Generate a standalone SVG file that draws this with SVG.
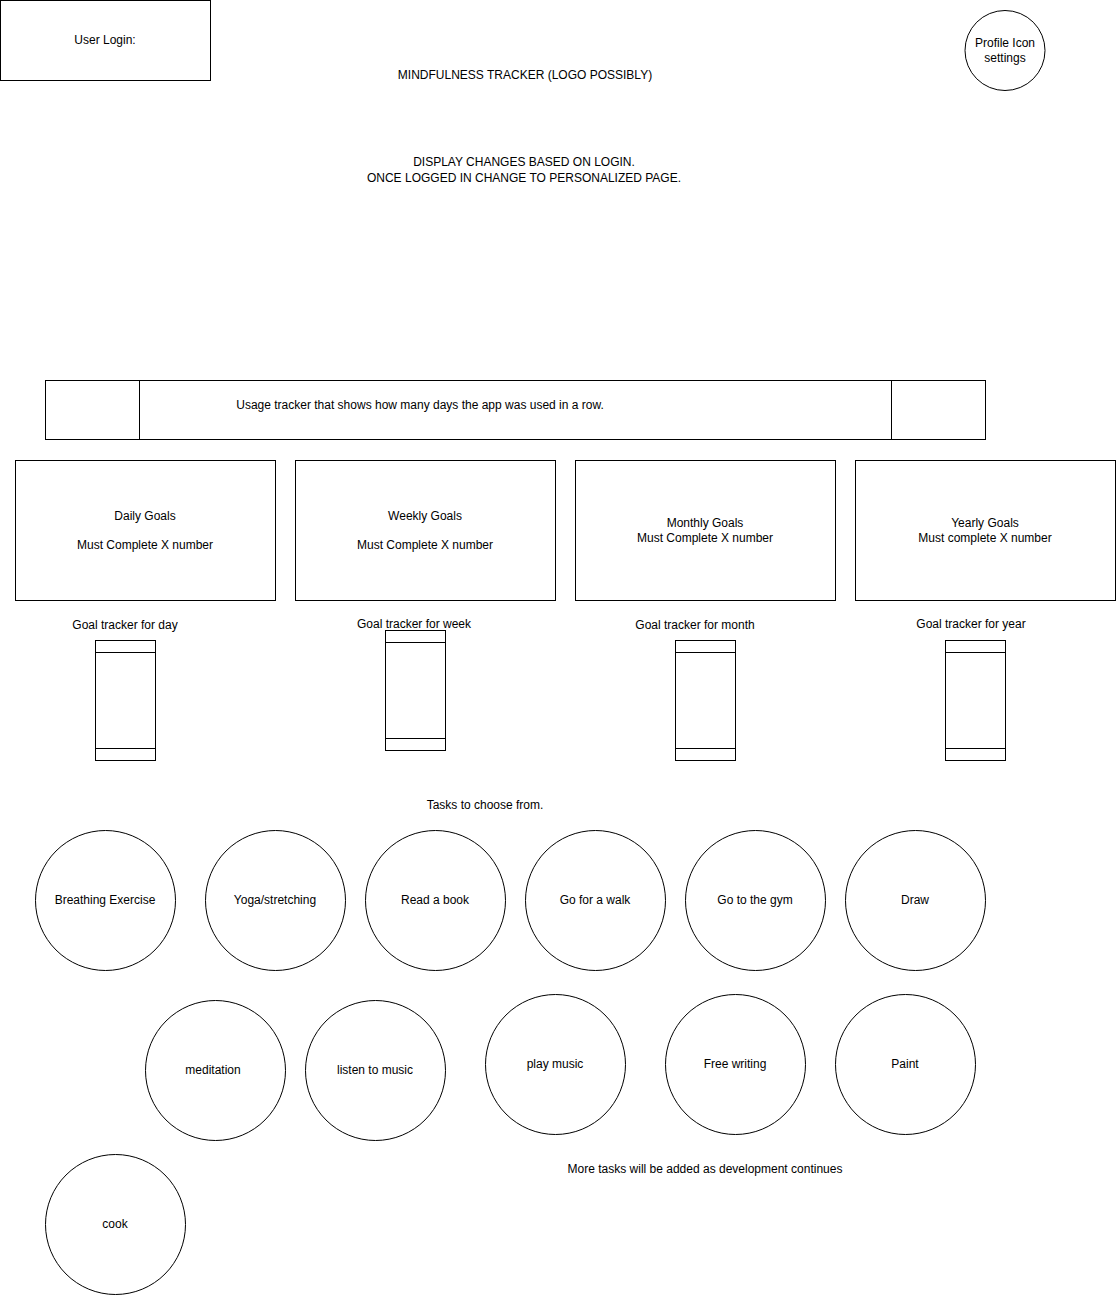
<svg xmlns="http://www.w3.org/2000/svg" width="1116" height="1295" viewBox="0 0 1116 1295">
<style>
.s{fill:#fff;stroke:#000;stroke-width:1}
.l{fill:none;stroke:#000;stroke-width:1}
text{font-family:"Liberation Sans",Arial,sans-serif;font-size:12px;fill:#000;text-anchor:middle}
</style>
<rect width="1116" height="1295" fill="#fff"/>
<g id="login"><rect class="s" x="0.5" y="0.5" width="210" height="80"/><text x="105" y="44">User Login:</text></g>
<g id="title"><text x="525" y="79">MINDFULNESS TRACKER (LOGO POSSIBLY)</text></g>
<g id="profile"><circle class="s" cx="1005" cy="50.5" r="40"/><text x="1005" y="47">Profile Icon</text><text x="1005" y="62">settings</text></g>
<g id="display"><text x="524" y="166">DISPLAY CHANGES BASED ON LOGIN.</text><text x="524" y="182">ONCE LOGGED IN CHANGE TO PERSONALIZED PAGE.</text></g>
<g id="usage"><rect class="s" x="45.5" y="380.5" width="940" height="59"/><line class="l" x1="139.5" y1="380.5" x2="139.5" y2="439.5"/><line class="l" x1="891.5" y1="380.5" x2="891.5" y2="439.5"/><text x="420" y="409">Usage tracker that shows how many days the app was used in a row.</text></g>
<g id="daily"><rect class="s" x="15.5" y="460.5" width="260" height="140"/><text x="145" y="520">Daily Goals</text><text x="145" y="549">Must Complete X number</text></g>
<g id="weekly"><rect class="s" x="295.5" y="460.5" width="260" height="140"/><text x="425" y="520">Weekly Goals</text><text x="425" y="549">Must Complete X number</text></g>
<g id="monthly"><rect class="s" x="575.5" y="460.5" width="260" height="140"/><text x="705" y="527">Monthly Goals</text><text x="705" y="542">Must Complete X number</text></g>
<g id="yearly"><rect class="s" x="855.5" y="460.5" width="260" height="140"/><text x="985" y="527">Yearly Goals</text><text x="985" y="542">Must complete X number</text></g>
<g id="tracker-day"><text x="125" y="629">Goal tracker for day</text><rect class="s" x="95.5" y="640.5" width="60" height="120"/><line class="l" x1="95.5" y1="652.5" x2="155.5" y2="652.5"/><line class="l" x1="95.5" y1="748.5" x2="155.5" y2="748.5"/></g>
<g id="tracker-week"><text x="414" y="628">Goal tracker for week</text><rect class="s" x="385.5" y="630.5" width="60" height="120"/><line class="l" x1="385.5" y1="642.5" x2="445.5" y2="642.5"/><line class="l" x1="385.5" y1="738.5" x2="445.5" y2="738.5"/></g>
<g id="tracker-month"><text x="695" y="629">Goal tracker for month</text><rect class="s" x="675.5" y="640.5" width="60" height="120"/><line class="l" x1="675.5" y1="652.5" x2="735.5" y2="652.5"/><line class="l" x1="675.5" y1="748.5" x2="735.5" y2="748.5"/></g>
<g id="tracker-year"><text x="971" y="628">Goal tracker for year</text><rect class="s" x="945.5" y="640.5" width="60" height="120"/><line class="l" x1="945.5" y1="652.5" x2="1005.5" y2="652.5"/><line class="l" x1="945.5" y1="748.5" x2="1005.5" y2="748.5"/></g>
<g id="tasks-label"><text x="485" y="809">Tasks to choose from.</text></g>
<g id="t1"><circle class="s" cx="105.5" cy="900.5" r="70"/><text x="105" y="904">Breathing Exercise</text></g>
<g id="t2"><circle class="s" cx="275.5" cy="900.5" r="70"/><text x="275" y="904">Yoga/stretching</text></g>
<g id="t3"><circle class="s" cx="435.5" cy="900.5" r="70"/><text x="435" y="904">Read a book</text></g>
<g id="t4"><circle class="s" cx="595.5" cy="900.5" r="70"/><text x="595" y="904">Go for a walk</text></g>
<g id="t5"><circle class="s" cx="755.5" cy="900.5" r="70"/><text x="755" y="904">Go to the gym</text></g>
<g id="t6"><circle class="s" cx="915.5" cy="900.5" r="70"/><text x="915" y="904">Draw</text></g>
<g id="t7"><circle class="s" cx="215.5" cy="1070.5" r="70"/><text x="213" y="1074">meditation</text></g>
<g id="t8"><circle class="s" cx="375.5" cy="1070.5" r="70"/><text x="375" y="1074">listen to music</text></g>
<g id="t9"><circle class="s" cx="555.5" cy="1064.5" r="70"/><text x="555" y="1068">play music</text></g>
<g id="t10"><circle class="s" cx="735.5" cy="1064.5" r="70"/><text x="735" y="1068">Free writing</text></g>
<g id="t11"><circle class="s" cx="905.5" cy="1064.5" r="70"/><text x="905" y="1068">Paint</text></g>
<g id="t12"><circle class="s" cx="115.5" cy="1224.5" r="70"/><text x="115" y="1228">cook</text></g>
<g id="more"><text x="705" y="1173">More tasks will be added as development continues</text></g>
<g id="connectors"></g>
</svg>
